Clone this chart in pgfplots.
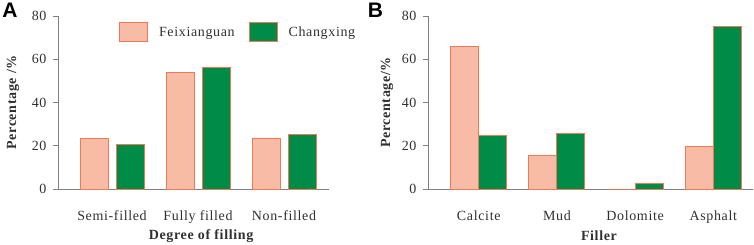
\documentclass[border=0pt]{standalone}
\usepackage{fontspec}
\setmainfont{Liberation Serif}
\newfontfamily\spaced{Liberation Serif}[LetterSpace=4.6]
\newfontfamily\panelfont{Liberation Sans}
\usepackage{pgfplots}
\pgfplotsset{compat=1.18}
\definecolor{salmon}{HTML}{F8BCA6}
\definecolor{cgreen}{HTML}{008C47}
\definecolor{edge}{HTML}{EE7A55}
\definecolor{axgray}{HTML}{808080}
\definecolor{txt}{HTML}{303030}
\tikzset{lab/.style={font=\spaced\fontsize{14}{16}\selectfont\bfseries, text=txt}}
\pgfplotsset{
  common/.style={
    scale only axis,
    height=173pt,
    ymin=0, ymax=80,
    ytick={0,20,40,60,80},
    axis x line*=bottom,
    axis y line*=left,
    axis line style={axgray, line width=0.9pt},
    tick align=outside,
    major tick length=5pt,
    ytick style={axgray, line width=0.9pt},
    xtick style={draw=none},
    xtick=data,
    /pgf/number format/assume math mode=true,
    tick label style={font=\spaced\fontsize{14}{16}\selectfont, text=txt},
    xticklabel style={anchor=base, yshift=-27pt},
    yticklabel style={anchor=east, xshift=-3pt},
    bar width=28pt,
    clip=false,
  },
  fx/.style={draw=edge, line width=0.9pt, fill=salmon},
  cx/.style={draw=edge, line width=0.9pt, fill=cgreen},
}
\begin{document}
\begin{tikzpicture}
\useasboundingbox (0,-56pt) rectangle (754pt,189pt);
\begin{axis}[common,
  at={(58pt,0pt)}, anchor=south west,
  width=271pt,
  ybar=8pt,
  xmin=-0.628, xmax=2.523,
  xticklabels={Semi-filled,Fully filled,Non-filled},
  ylabel={Percentage /\%},
  xlabel={Degree of filling},
  every axis y label/.style={lab, at={(axis description cs:-0.166,0.5)}, rotate=90, anchor=center},
  every axis x label/.style={lab, at={(axis description cs:0.528,-0.272)}, anchor=center},
  legend columns=2,
  legend style={draw=none, fill=none, at={(axis description cs:0.225,0.905)}, anchor=west,
    inner sep=0pt, font=\spaced\fontsize{14}{16}\selectfont, text=txt,
    /tikz/every odd column/.append style={column sep=9pt},
    /tikz/every even column/.append style={column sep=12pt}},
  legend image code/.code={\draw[#1] (0pt,-9.5pt) rectangle (28pt,9.5pt);},
]
\addplot[fx] coordinates {(0,23.4) (1,54.1) (2,23.6)};
\addlegendentry{Feixianguan}
\addplot[cx] coordinates {(0,20.6) (1,56.4) (2,25.3)};
\addlegendentry{Changxing}
\end{axis}
\begin{axis}[common,
  at={(428pt,0pt)}, anchor=south west,
  width=325pt,
  ybar=0pt,
  xmin=-0.649, xmax=3.508,
  xticklabels={Calcite,Mud,Dolomite,Asphalt},
  ylabel={Percentage/\%},
  xlabel={Filler},
  every axis y label/.style={lab, at={(axis description cs:-0.126,0.5)}, rotate=90, anchor=center},
  every axis x label/.style={lab, at={(axis description cs:0.526,-0.272)}, anchor=center},
]
\addplot[fx] coordinates {(0,66.0) (1,15.6) (2,0) (3,19.6)};
\addplot[cx] coordinates {(0,24.8) (1,25.7) (2,2.6) (3,75.0)};
\end{axis}
\node[font=\panelfont\fontsize{21}{21}\selectfont\bfseries] at (10pt,178.5pt) {A};
\node[font=\panelfont\fontsize{21}{21}\selectfont\bfseries] at (375.5pt,178.5pt) {B};
\end{tikzpicture}
\end{document}
